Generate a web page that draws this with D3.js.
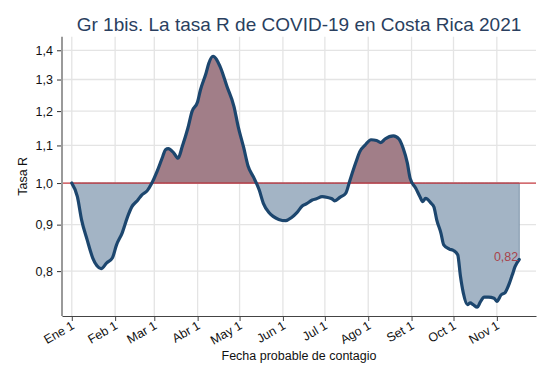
<!DOCTYPE html>
<html>
<head>
<meta charset="utf-8">
<script src="https://cdn.jsdelivr.net/npm/d3@7"></script>
<style>
  html, body { margin: 0; padding: 0; background: #fff; }
  svg { display: block; font-family: "Liberation Sans", Arial, sans-serif; }
</style>
</head>
<body>
<svg id="chart" width="550" height="381"></svg>
<script>
// ---- data ----
const dates = [
  "2021-01-01","2021-01-05","2021-01-08","2021-01-12","2021-01-16","2021-01-19","2021-01-22","2021-01-26","2021-01-30",
  "2021-02-02","2021-02-06","2021-02-10","2021-02-13","2021-02-17","2021-02-20","2021-02-24","2021-02-27",
  "2021-03-03","2021-03-07","2021-03-09","2021-03-11","2021-03-15","2021-03-18","2021-03-21","2021-03-25","2021-03-28",
  "2021-04-01","2021-04-03","2021-04-07","2021-04-09","2021-04-12","2021-04-17","2021-04-22","2021-04-27","2021-04-30",
  "2021-05-04","2021-05-07","2021-05-11","2021-05-15","2021-05-18","2021-05-22","2021-05-25","2021-05-29",
  "2021-06-03","2021-06-07","2021-06-11","2021-06-15","2021-06-18","2021-06-22","2021-06-25","2021-06-29",
  "2021-07-03","2021-07-06","2021-07-08","2021-07-12","2021-07-16","2021-07-19","2021-07-23","2021-07-26","2021-07-30",
  "2021-08-03","2021-08-07","2021-08-10","2021-08-13","2021-08-19","2021-08-23","2021-08-26","2021-08-29","2021-08-31",
  "2021-09-04","2021-09-07","2021-09-09","2021-09-11","2021-09-15","2021-09-17","2021-09-19","2021-09-22","2021-09-24","2021-09-28",
  "2021-10-01","2021-10-04","2021-10-06","2021-10-08","2021-10-11","2021-10-13","2021-10-15","2021-10-18","2021-10-20","2021-10-23","2021-10-26","2021-10-30",
  "2021-11-01","2021-11-04","2021-11-07","2021-11-10","2021-11-12","2021-11-14","2021-11-17"
];
const rValues = [
  1.000,0.966,0.911,0.866,0.827,0.811,0.805,0.817,0.827,
  0.855,0.881,0.919,0.942,0.957,0.970,0.981,0.998,
  1.030,1.069,1.088,1.091,1.079,1.065,1.097,1.149,1.199,
  1.229,1.266,1.321,1.355,1.379,1.344,1.277,1.214,1.154,
  1.093,1.045,1.015,0.983,0.950,0.928,0.919,0.912,
  0.909,0.916,0.928,0.944,0.949,0.958,0.961,0.966,
  0.964,0.961,0.956,0.965,0.975,1.008,1.052,1.083,1.102,
  1.116,1.114,1.108,1.118,1.127,1.118,1.092,1.052,1.012,
  0.987,0.966,0.954,0.962,0.950,0.941,0.911,0.881,0.855,0.846,
  0.843,0.834,0.789,0.757,0.735,0.738,0.735,0.730,0.739,0.749,0.749,0.747,
  0.741,0.753,0.758,0.776,0.792,0.809,0.824
];
const monthTicks = ["2021-01-01","2021-02-01","2021-03-01","2021-04-01","2021-05-01","2021-06-01",
                    "2021-07-01","2021-08-01","2021-09-01","2021-10-01","2021-11-01"];
const monthLabels = ["Ene 1","Feb 1","Mar 1","Abr 1","May 1","Jun 1","Jul 1","Ago 1","Set 1","Oct 1","Nov 1"];
const yTicks = [0.8, 0.9, 1.0, 1.1, 1.2, 1.3, 1.4];
const xDomain = ["2020-12-25", "2021-11-29"];
const yDomain = [0.714, 1.449];
const refValue = 1.0;
const titleText = "Gr 1bis. La tasa R de COVID-19 en Costa Rica 2021";
const xTitle = "Fecha probable de contagio";
const yTitle = "Tasa R";

// ---- layout ----
const plot = { left: 62, right: 536, top: 36.7, bottom: 316 };
const parse = d3.utcParse("%Y-%m-%d");
const data = dates.map((d, i) => ({ date: parse(d), v: rValues[i] }));
const locale = d3.formatLocale({ decimal: ",", thousands: ".", grouping: [3], currency: ["", ""] });
const fmt1 = locale.format(".1f");
const fmt2 = locale.format(".2f");

const x = d3.scaleUtc().domain(xDomain.map(parse)).range([plot.left, plot.right]);
const y = d3.scaleLog().domain(yDomain).range([plot.bottom, plot.top]);

const svg = d3.select("#chart");

// gridlines
const grid = svg.append("g");
grid.selectAll("line.vg").data(monthTicks.map(parse)).join("line")
  .attr("x1", d => x(d)).attr("x2", d => x(d))
  .attr("y1", plot.top).attr("y2", plot.bottom)
  .attr("stroke", "#e4e4e4").attr("stroke-width", 1.3);
grid.selectAll("line.hg").data(yTicks).join("line")
  .attr("x1", plot.left).attr("x2", plot.right)
  .attr("y1", d => y(d)).attr("y2", d => y(d))
  .attr("stroke", "#e4e4e4").attr("stroke-width", 1.3);

// fills
const defs = svg.append("defs");
defs.append("clipPath").attr("id", "above").append("rect")
  .attr("x", plot.left).attr("y", plot.top).attr("width", plot.right - plot.left)
  .attr("height", y(refValue) - plot.top);
defs.append("clipPath").attr("id", "below").append("rect")
  .attr("x", plot.left).attr("y", y(refValue)).attr("width", plot.right - plot.left)
  .attr("height", plot.bottom - y(refValue));

const area = d3.area().x(d => x(d.date)).y0(y(refValue)).y1(d => y(d.v)).curve(d3.curveMonotoneX);
svg.append("path").datum(data).attr("d", area)
  .attr("clip-path", "url(#above)")
  .attr("fill", "#a17e88").attr("stroke", "#8a6672").attr("stroke-width", 1);
svg.append("path").datum(data).attr("d", area)
  .attr("clip-path", "url(#below)")
  .attr("fill", "#a3b4c5").attr("stroke", "#7d93aa").attr("stroke-width", 1);

// reference line
svg.append("line")
  .attr("x1", plot.left).attr("x2", plot.right)
  .attr("y1", y(refValue)).attr("y2", y(refValue))
  .attr("stroke", "#c8262c").attr("stroke-width", 1.2).attr("opacity", 0.85);

// curve
const line = d3.line().x(d => x(d.date)).y(d => y(d.v)).curve(d3.curveMonotoneX);
svg.append("path").datum(data).attr("d", line)
  .attr("fill", "none").attr("stroke", "#1c466e").attr("stroke-width", 3.2)
  .attr("stroke-linejoin", "round").attr("stroke-linecap", "round");

// last value label
const last = data[data.length - 1];
svg.append("text")
  .attr("x", x(last.date) - 1).attr("y", y(last.v) + 1.5)
  .attr("text-anchor", "end").attr("font-size", 12.5).attr("fill", "#a8434b")
  .text(fmt2(last.v));

// y axis
const yAxis = d3.axisLeft(y).tickValues(yTicks).tickFormat(fmt1).tickSize(5).tickPadding(4);
const gy = svg.append("g").attr("transform", `translate(${plot.left},0)`).call(yAxis);
gy.select(".domain").remove();
gy.selectAll(".tick line").attr("stroke", "#333");
gy.selectAll(".tick text").attr("font-size", 12.5).attr("fill", "#111").attr("font-family", "Liberation Sans, Arial, sans-serif");
svg.append("line").attr("x1", plot.left).attr("x2", plot.left)
  .attr("y1", plot.top).attr("y2", plot.bottom)
  .attr("stroke", "#9a9a9a").attr("stroke-width", 2);

// x axis
const xAxis = d3.axisBottom(x).tickValues(monthTicks.map(parse))
  .tickFormat((d, i) => monthLabels[i]).tickSize(5).tickSizeOuter(0);
const gx = svg.append("g").attr("transform", `translate(0,${plot.bottom})`).call(xAxis);
gx.select(".domain").attr("stroke", "#444").attr("stroke-width", 1.2);
gx.selectAll(".tick line").attr("stroke", "#444");
gx.selectAll(".tick text")
  .attr("font-size", 12.5).attr("fill", "#111").attr("font-family", "Liberation Sans, Arial, sans-serif")
  .attr("text-anchor", "end").attr("dy", null).attr("y", null)
  .attr("transform", "translate(3,12) rotate(-30)");

// titles
svg.append("text").attr("x", (plot.left + plot.right) / 2).attr("y", 31)
  .attr("text-anchor", "middle").attr("font-size", 19).attr("fill", "#2a3f5f")
  .text(titleText);
svg.append("text").attr("x", (plot.left + plot.right) / 2).attr("y", 360)
  .attr("text-anchor", "middle").attr("font-size", 12.5).attr("fill", "#111")
  .text(xTitle);
svg.append("text").attr("transform", `translate(27,${(plot.top + plot.bottom) / 2}) rotate(-90)`)
  .attr("text-anchor", "middle").attr("font-size", 12.5).attr("fill", "#111")
  .text(yTitle);
</script>
</body>
</html>
